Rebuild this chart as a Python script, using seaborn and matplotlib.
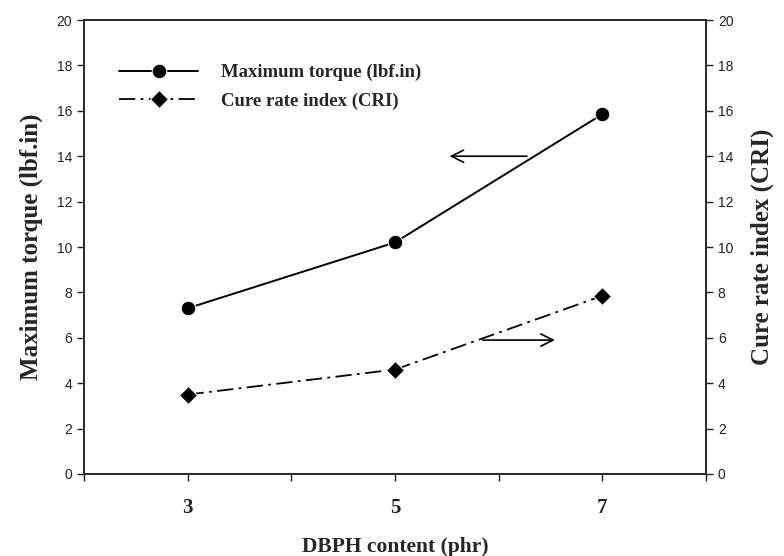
import matplotlib
matplotlib.use("Agg")
import matplotlib.pyplot as plt
import seaborn as sns
import pandas as pd

# DBPH content (phr) and the measured cure properties
dbph_content = [3, 5, 7]
max_torque = [7.3, 10.2, 15.85]
cure_rate_index = [3.5, 4.6, 7.85]

x_ticks = [2, 3, 4, 5, 6, 7, 8]
x_tick_labels = ["", "3", "", "5", "", "7", ""]
y_ticks = list(range(0, 21, 2))

sns.set_theme(style="white")
plt.rcParams["font.family"] = ["Liberation Sans", "DejaVu Sans"]

serif_bold = dict(family="Liberation Serif", weight="bold")

df = pd.DataFrame({
    "DBPH": dbph_content,
    "torque": max_torque,
    "cri": cure_rate_index,
})

fig = plt.figure(figsize=(7.84, 5.56), dpi=100)
ax = fig.add_axes([0.107, 0.1475, 0.7935, 0.8165])
ax2 = ax.twinx()

sns.lineplot(data=df, x="DBPH", y="torque", ax=ax, color="black",
             marker="o", markersize=10.5, linewidth=1.4,
             label="Maximum torque (lbf.in)", legend=False)
sns.lineplot(data=df, x="DBPH", y="cri", ax=ax2, color="black",
             marker="D", markersize=9.5, linewidth=1.3,
             linestyle=(0, (9, 3, 1.5, 3)), label="Cure rate index (CRI)",
             legend=False)

for a in (ax, ax2):
    a.set_xlim(2, 8)
    a.set_ylim(0, 20)
    a.set_yticks(y_ticks)
    for s in a.spines.values():
        s.set_color("#222222")
        s.set_linewidth(1.1)

ax.set_xticks(x_ticks)
ax.set_xticklabels(x_tick_labels, fontdict=dict(size=15, **serif_bold))
ax.set_yticklabels([str(v) for v in y_ticks], fontsize=10, color="#222222")
ax2.set_yticklabels([str(v) for v in y_ticks], fontsize=10, color="#222222")

ax.tick_params(axis="x", direction="out", length=5, width=1, bottom=True,
               pad=12, colors="#222222")
ax.tick_params(axis="y", direction="out", length=5, width=1, left=True,
               colors="#222222")
ax2.tick_params(axis="y", direction="out", length=5, width=1, right=True,
                colors="#222222")

ax.set_xlabel("DBPH content (phr)", fontsize=15.5, labelpad=14, **serif_bold)
ax.set_ylabel("Maximum torque (lbf.in)", fontsize=18, labelpad=10, **serif_bold)
ax2.set_ylabel("Cure rate index (CRI)", fontsize=18, labelpad=12, **serif_bold)

# arrows pointing each curve to its own axis
ax.annotate("", xy=(5.5, 14.0), xytext=(6.3, 14.0),
            arrowprops=dict(arrowstyle="->", color="black", lw=1.2,
                            mutation_scale=22))
ax.annotate("", xy=(6.57, 5.9), xytext=(5.82, 5.9),
            arrowprops=dict(arrowstyle="->", color="black", lw=1.2,
                            mutation_scale=22))

handles = ax.get_lines()[:1] + ax2.get_lines()[:1]
leg = ax.legend(handles, [h.get_label() for h in handles],
                loc="upper left", bbox_to_anchor=(0.03, 0.94), frameon=False,
                handlelength=4.2, handletextpad=1.2, labelspacing=0.6,
                prop=dict(family="Liberation Serif", weight="bold", size=13.5))

fig.savefig("out.png", dpi=100, facecolor="white")
